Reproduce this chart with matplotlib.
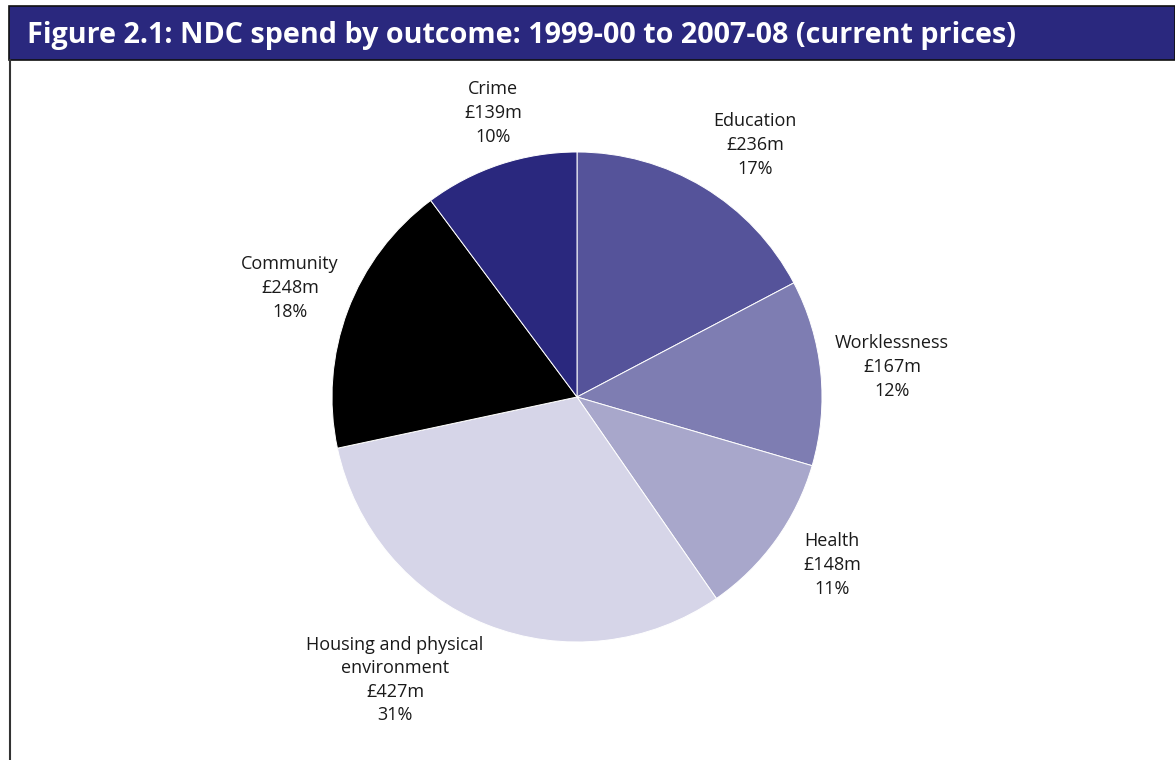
import matplotlib
matplotlib.use("Agg")
import matplotlib.pyplot as plt
from matplotlib.patches import Rectangle
from matplotlib.lines import Line2D

# NDC spend by outcome, 1999-00 to 2007-08, £m
outcomes = ["Education", "Worklessness", "Health",
            "Housing and physical\nenvironment", "Community", "Crime"]
spend = [236, 167, 148, 427, 248, 139]
colours = ["#55539a", "#7e7db2", "#a8a7cb", "#d6d5e8", "#000000", "#2a287e"]

# label anchor points (pixels from top-left)
label_pos = [(755, 145), (892, 367), (832, 565), (395, 680), (290, 288), (493, 113)]

W, H = 1175, 760
fig = plt.figure(figsize=(W / 100, H / 100), dpi=100)
ax = fig.add_axes([0, 0, 1, 1])

total = sum(spend)
ax.pie(spend, colors=colours, startangle=90, counterclock=False,
       center=(577, H - 397), radius=245,
       wedgeprops=dict(edgecolor="white", linewidth=0.7))
ax.set_xlim(0, W)
ax.set_ylim(0, H)
ax.set_aspect("equal")
ax.axis("off")

for name, v, (x, y) in zip(outcomes, spend, label_pos):
    pct = round(v / total * 100)
    ax.text(x, H - y, f"{name}\n£{v}m\n{pct}%", ha="center", va="center",
            fontsize=13, family="Open Sans", color="#1a1a1a", linespacing=1.4)

# title band and frame
ax.add_patch(Rectangle((9, H - 60), W - 9, 54, facecolor="#2a287e",
                       edgecolor="#111111", linewidth=1.2, clip_on=False))
ax.add_line(Line2D([10, 10], [0, H - 60], color="#333333", linewidth=1.5))
ax.text(27, H - 35, "Figure 2.1: NDC spend by outcome: 1999-00 to 2007-08 (current prices)",
        ha="left", va="center", fontsize=20.7, fontweight="bold",
        family="Open Sans", color="white")

fig.savefig("out.png", dpi=100)
